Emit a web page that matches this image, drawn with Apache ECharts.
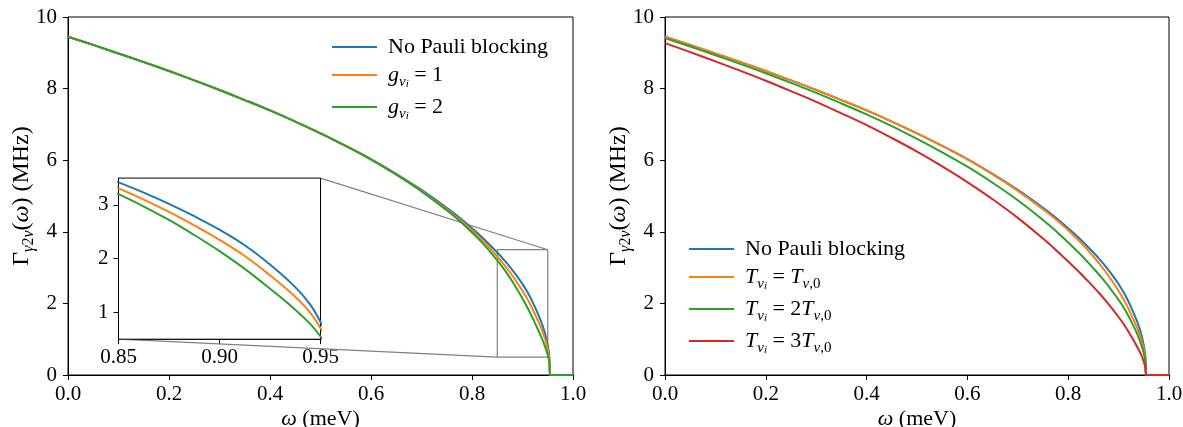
<!DOCTYPE html>
<html><head><meta charset="utf-8">
<script src="https://cdn.jsdelivr.net/npm/echarts@6/dist/echarts.min.js"></script>
<style>html,body{margin:0;padding:0;background:#fff}#c{width:1183px;height:427px}</style>
</head><body><div id="c"></div>
<script>
// ---- data ----
const omega   = [0,0.05,0.1,0.15,0.2,0.25,0.3,0.35,0.4,0.45,0.5,0.55,0.6,0.65,0.7,0.75,0.775,0.8,0.825,0.85,0.8625,0.875,0.8875,0.9,0.9125,0.925,0.9375,0.945,0.95,0.953,0.955,1.0];
const noPauli = [9.45,9.22,8.98,8.74,8.49,8.23,7.96,7.68,7.39,7.08,6.75,6.40,6.03,5.62,5.17,4.67,4.40,4.10,3.78,3.42,3.23,3.02,2.79,2.54,2.25,1.89,1.47,1.14,0.82,0.54,0,0];
const g1      = [9.45,9.22,8.98,8.74,8.49,8.23,7.96,7.68,7.39,7.08,6.75,6.40,6.02,5.605,5.145,4.63,4.35,4.04,3.70,3.31,3.10,2.87,2.62,2.35,2.05,1.69,1.29,0.99,0.71,0.47,0,0];
const g2      = [9.45,9.22,8.98,8.74,8.49,8.23,7.96,7.68,7.39,7.08,6.75,6.395,6.015,5.595,5.13,4.60,4.31,3.98,3.62,3.20,2.97,2.72,2.44,2.14,1.81,1.44,1.05,0.78,0.55,0.36,0,0];
const tT1     = [9.45,9.22,8.98,8.74,8.49,8.23,7.96,7.68,7.39,7.08,6.75,6.40,6.02,5.605,5.145,4.63,4.35,4.04,3.70,3.31,3.10,2.87,2.62,2.35,2.05,1.69,1.29,0.99,0.71,0.47,0,0];
const tT2     = [9.41,9.175,8.93,8.685,8.43,8.16,7.88,7.585,7.28,6.95,6.595,6.22,5.82,5.37,4.88,4.33,4.03,3.70,3.36,2.98,2.785,2.57,2.34,2.10,1.83,1.50,1.13,0.85,0.60,0.39,0,0];
const tT3     = [9.27,9.02,8.76,8.495,8.22,7.93,7.63,7.31,6.98,6.62,6.24,5.83,5.39,4.91,4.39,3.81,3.50,3.17,2.83,2.46,2.27,2.065,1.85,1.62,1.37,1.08,0.77,0.56,0.37,0.22,0,0];
const insetXRange = [0.85, 0.95];
const insetYRange = [0.5, 3.5];
const insetXTicks = [0.85, 0.90, 0.95];
const insetYTicks = [1, 2, 3];
const insetBoxX = [0.1, 0.5];   // inset placement in main-axis data coords
const insetBoxY = [1.0, 5.5];

const C = ['#1f77b4','#ff7f0e','#2ca02c','#d62728'];
const FONT = 'Liberation Serif';
const pts = v => omega.map((x,i)=>[x, v[i]]);

function mkRich(s){
  return {
    n:   {fontFamily:FONT,fontSize:s,lineHeight:30,color:'#000'},
    it:  {fontFamily:FONT,fontSize:s,lineHeight:30,fontStyle:'italic',color:'#000'},
    sub: {fontFamily:FONT,fontSize:Math.round(s*0.68),lineHeight:15,fontStyle:'italic',verticalAlign:'bottom',color:'#000'},
    subn:{fontFamily:FONT,fontSize:Math.round(s*0.68),lineHeight:15,verticalAlign:'bottom',color:'#000'},
    ss:  {fontFamily:FONT,fontSize:11,lineHeight:9,fontStyle:'italic',verticalAlign:'bottom',color:'#000'}
  };
}
const rich = mkRich(22);
const richY = mkRich(24);
const legendText = {
  'noPauliL':'{n|No Pauli blocking}',
  'noPauliR':'{n|No Pauli blocking}',
  'g1':'{it|g}{sub|ν}{ss|i}{n| = 1}',
  'g2':'{it|g}{sub|ν}{ss|i}{n| = 2}',
  'T1':'{it|T}{sub|ν}{ss|i}{n| = }{it|T}{sub|ν}{subn|,0}',
  'T2':'{it|T}{sub|ν}{ss|i}{n| = 2}{it|T}{sub|ν}{subn|,0}',
  'T3':'{it|T}{sub|ν}{ss|i}{n| = 3}{it|T}{sub|ν}{subn|,0}'
};
const yName = '{n|Γ}{sub|γ}{subn|2}{sub|ν}{n|(}{it|ω}{n|) (MHz)}';
const xName = '{it|ω}{n| (meV)}';

function mainX(gi){
  return {type:'value',gridIndex:gi,min:0,max:1,interval:0.2,
    name:xName,nameLocation:'middle',nameGap:29,nameMoveOverlap:false,nameTextStyle:{rich:rich},
    axisLine:{lineStyle:{color:'#000',width:1}},
    axisTick:{length:5,lineStyle:{color:'#000'}},
    axisLabel:{margin:9,fontFamily:FONT,fontSize:21,color:'#000',formatter:v=>v.toFixed(1)},
    splitLine:{show:false}};
}
function mainY(gi){
  return {type:'value',gridIndex:gi,min:0,max:10,interval:2,
    name:yName,nameLocation:'middle',nameGap:31,nameMoveOverlap:false,nameRotate:90,nameTextStyle:{rich:richY},
    axisLine:{show:true,lineStyle:{color:'#000',width:1}},
    axisTick:{show:true,length:5,lineStyle:{color:'#000'}},
    axisLabel:{margin:11,fontFamily:FONT,fontSize:21,color:'#000'},
    splitLine:{show:false}};
}
function line(name,data,color,xi,z){
  return {type:'line',name:name,data:data,xAxisIndex:xi,yAxisIndex:xi,showSymbol:false,symbol:'none',
    lineStyle:{color:color,width:2},itemStyle:{color:color},smooth:0.4,clip:true,z:z||3,silent:true};
}
function grayLine(data){
  return {type:'line',data:data,xAxisIndex:0,yAxisIndex:0,symbol:'none',showSymbol:false,
    lineStyle:{color:'#808080',width:1.2},itemStyle:{color:'#808080'},z:1,silent:true};
}

const chart = echarts.init(document.getElementById('c'),null,{renderer:'canvas'});
const option = {
  animation:false,
  backgroundColor:'#fff',
  grid:[
    {left:68,top:17,width:505,height:358,outerBoundsMode:'none',containLabel:false,show:true,borderColor:'#000',borderWidth:1,backgroundColor:'transparent'},
    {left:665,top:17,width:504,height:358,outerBoundsMode:'none',containLabel:false,show:true,borderColor:'#000',borderWidth:1,backgroundColor:'transparent'},
    {left:119,top:178,width:202,height:161,outerBoundsMode:'none',containLabel:false,show:true,borderColor:'#000',borderWidth:1,backgroundColor:'#fff',z:2}
  ],
  xAxis:[mainX(0),mainX(1),
    {type:'value',gridIndex:2,min:insetXRange[0],max:insetXRange[1],
     axisLine:{lineStyle:{color:'#000'}},
     axisTick:{length:5,customValues:insetXTicks,lineStyle:{color:'#000'}},
     axisLabel:{margin:8,customValues:insetXTicks,fontFamily:FONT,fontSize:21,color:'#000',formatter:v=>v.toFixed(2)},
     splitLine:{show:false}}],
  yAxis:[mainY(0),mainY(1),
    {type:'value',gridIndex:2,min:insetYRange[0],max:insetYRange[1],
     axisLine:{show:true,lineStyle:{color:'#000'}},
     axisTick:{show:true,length:5,customValues:insetYTicks,lineStyle:{color:'#000'}},
     axisLabel:{margin:10,customValues:insetYTicks,fontFamily:FONT,fontSize:21,color:'#000'},
     splitLine:{show:false}}],
  legend:[
    {data:['noPauliL','g1','g2'],orient:'vertical',left:327,top:31,itemWidth:45,itemHeight:2,itemGap:6,icon:'rect',
     formatter:n=>legendText[n],textStyle:{rich:rich,padding:[0,0,0,6]},selectedMode:false},
    {data:['noPauliR','T1','T2','T3'],orient:'vertical',left:684,top:233,itemWidth:45,itemHeight:2,itemGap:6,icon:'rect',
     formatter:n=>legendText[n],textStyle:{rich:rich,padding:[0,0,0,6]},selectedMode:false}
  ],
  series:[
    grayLine([[insetXRange[0],insetYRange[0]],[insetXRange[1],insetYRange[0]],[insetXRange[1],insetYRange[1]],[insetXRange[0],insetYRange[1]],[insetXRange[0],insetYRange[0]]]),
    grayLine([[insetBoxX[1],insetBoxY[1]],[insetXRange[1],insetYRange[1]]]),
    grayLine([[insetBoxX[0],insetBoxY[0]],[insetXRange[0],insetYRange[0]]]),
    line('noPauliL',pts(noPauli),C[0],0),
    line('g1',pts(g1),C[1],0),
    line('g2',pts(g2),C[2],0),
    line('noPauliR',pts(noPauli),C[0],1),
    line('T1',pts(tT1),C[1],1),
    line('T2',pts(tT2),C[2],1),
    line('T3',pts(tT3),C[3],1),
    line('inB',pts(noPauli),C[0],2,5),
    line('inO',pts(g1),C[1],2,5),
    line('inG',pts(g2),C[2],2,5)
  ]
};
chart.setOption(option);
const p1 = chart.convertToPixel({gridIndex:0},[insetBoxX[0],insetBoxY[1]]);
const p2 = chart.convertToPixel({gridIndex:0},[insetBoxX[1],insetBoxY[0]]);
chart.setOption({grid:[{},{},{left:p1[0],top:p1[1],width:p2[0]-p1[0],height:p2[1]-p1[1]}]});
</script></body></html>
